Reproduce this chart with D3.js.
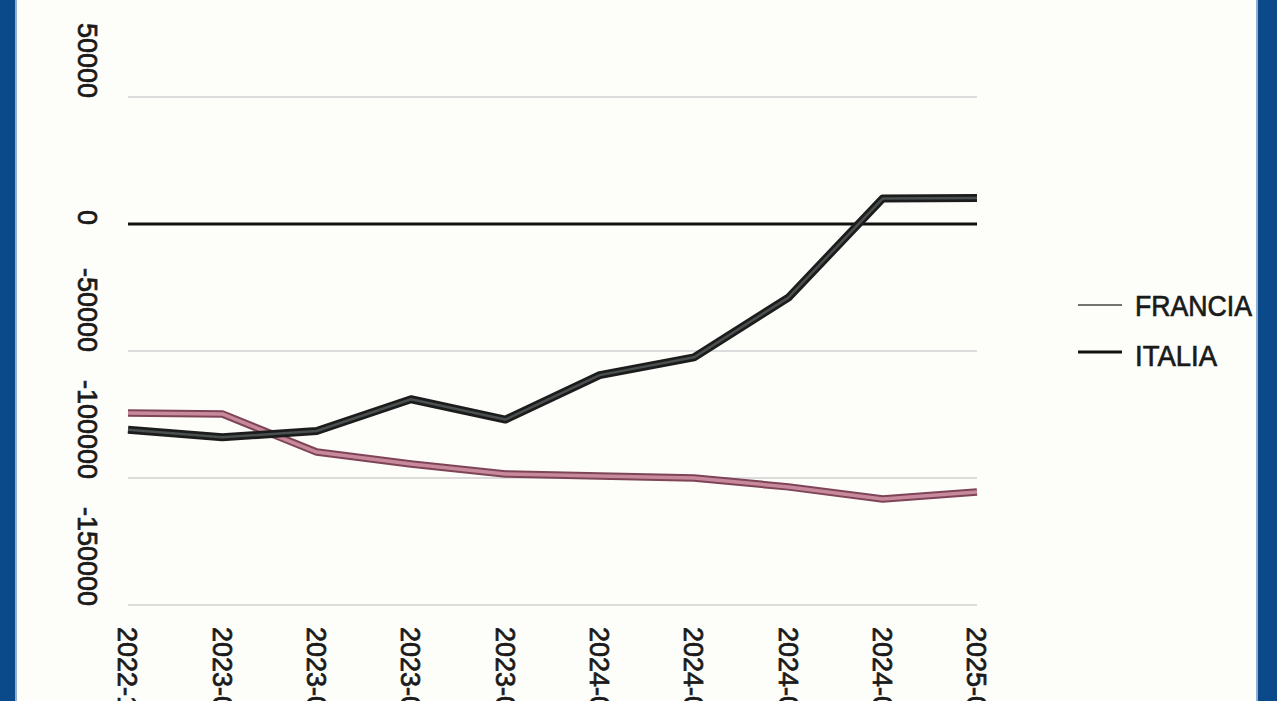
<!DOCTYPE html>
<html>
<head>
<meta charset="utf-8">
<script src="https://cdn.jsdelivr.net/npm/d3@7"></script>
<style>
html,body{margin:0;padding:0;background:#fdfdf9;overflow:hidden;}
svg{display:block;}
text{font-family:"Liberation Sans",Arial,sans-serif;fill:#1a1a1a;stroke:#1a1a1a;stroke-width:0.7px;}
</style>
</head>
<body>
<svg id="chart" width="1280" height="701"></svg>
<script>
// ---- data ----
const categories = ["2022-12","2023-02","2023-04","2023-06","2023-08","2024-01","2024-03","2024-05","2024-07","2025-01"];
const francia = [-74400,-74800,-89800,-94500,-98400,-99200,-100000,-103500,-108300,-105500];
const italia  = [-81000,-84000,-81500,-69000,-77000,-59500,-52500,-29000,10000,10200];
const yTicks = [50000,0,-50000,-100000,-150000];
const yTickLabels = ["50000","0","-50000","-100000","-150000"];
const seriesNames = ["FRANCIA","ITALIA"];

const svg = d3.select("#chart");
const W = 1280, H = 701;

svg.append("rect").attr("x",0).attr("y",0).attr("width",W).attr("height",H).attr("fill","#fdfdf9");

const x = d3.scalePoint().domain(categories).range([128, 977]);
const y = d3.scaleLinear().domain([-150000, 50000]).range([605, 97]);

// gridlines
const g = svg.append("g");
g.selectAll("line.grid").data(yTicks.filter(t => t !== 0)).join("line")
  .attr("class","grid")
  .attr("x1", x.range()[0]).attr("x2", x.range()[1])
  .attr("y1", d => y(d)).attr("y2", d => y(d))
  .attr("stroke","#dcdcdc").attr("stroke-width",2);

// zero line
g.append("line")
  .attr("x1", x.range()[0]).attr("x2", x.range()[1])
  .attr("y1", y(0)).attr("y2", y(0))
  .attr("stroke","#111").attr("stroke-width",3);

// y labels (rotated, reading top-to-bottom, ending at gridline)
g.selectAll("text.ylab").data(yTicks).join("text")
  .attr("class","ylab")
  .attr("transform", (d) => `translate(88,${y(d)+1}) rotate(90)`)
  .attr("text-anchor","end")
  .attr("dy","0.36em")
  .attr("font-size",27)
  .text((d,i) => yTickLabels[i]);

// x labels
g.selectAll("text.xlab").data(categories).join("text")
  .attr("class","xlab")
  .attr("transform", d => `translate(${x(d)},627) rotate(90)`)
  .attr("text-anchor","start")
  .attr("dy","0.36em")
  .attr("font-size",27)
  .text(d => d);

// lines
const line = d3.line().x((d,i) => x(categories[i])).y(d => y(d)).curve(d3.curveLinear);

function drawSeries(vals, outer, inner, wo, wi){
  g.append("path").attr("d", line(vals)).attr("fill","none")
    .attr("stroke", outer).attr("stroke-width", wo).attr("stroke-linejoin","round");
  g.append("path").attr("d", line(vals)).attr("fill","none")
    .attr("stroke", inner).attr("stroke-width", wi).attr("stroke-linejoin","round");
}
drawSeries(francia, "#7e4458", "#c8899c", 7.5, 3.5);
drawSeries(italia, "#1c1c1c", "#4a504f", 8, 2.5);

// legend
const leg = svg.append("g");
const legY = [305, 352];
leg.append("line").attr("x1",1078).attr("x2",1122).attr("y1",legY[0]).attr("y2",legY[0])
  .attr("stroke","#444").attr("stroke-width",1.5);
leg.append("line").attr("x1",1078).attr("x2",1122).attr("y1",legY[1]).attr("y2",legY[1])
  .attr("stroke","#111").attr("stroke-width",3);
leg.append("text").attr("x",1135).attr("y",legY[0]+11).attr("font-size",30)
  .attr("textLength",117).attr("lengthAdjust","spacingAndGlyphs").text(seriesNames[0]);
leg.append("text").attr("x",1135).attr("y",legY[1]+14).attr("font-size",30)
  .attr("textLength",82).attr("lengthAdjust","spacingAndGlyphs").text(seriesNames[1]);

// blue borders
svg.append("rect").attr("x",0).attr("y",0).attr("width",15).attr("height",H).attr("fill","#0b4a8a");
svg.append("rect").attr("x",15).attr("y",0).attr("width",2).attr("height",H).attr("fill","#8fb0d0");
svg.append("rect").attr("x",1258).attr("y",0).attr("width",19).attr("height",H).attr("fill","#0b4a8a");
svg.append("rect").attr("x",1256).attr("y",0).attr("width",2).attr("height",H).attr("fill","#8fb0d0");
</script>
</body>
</html>
